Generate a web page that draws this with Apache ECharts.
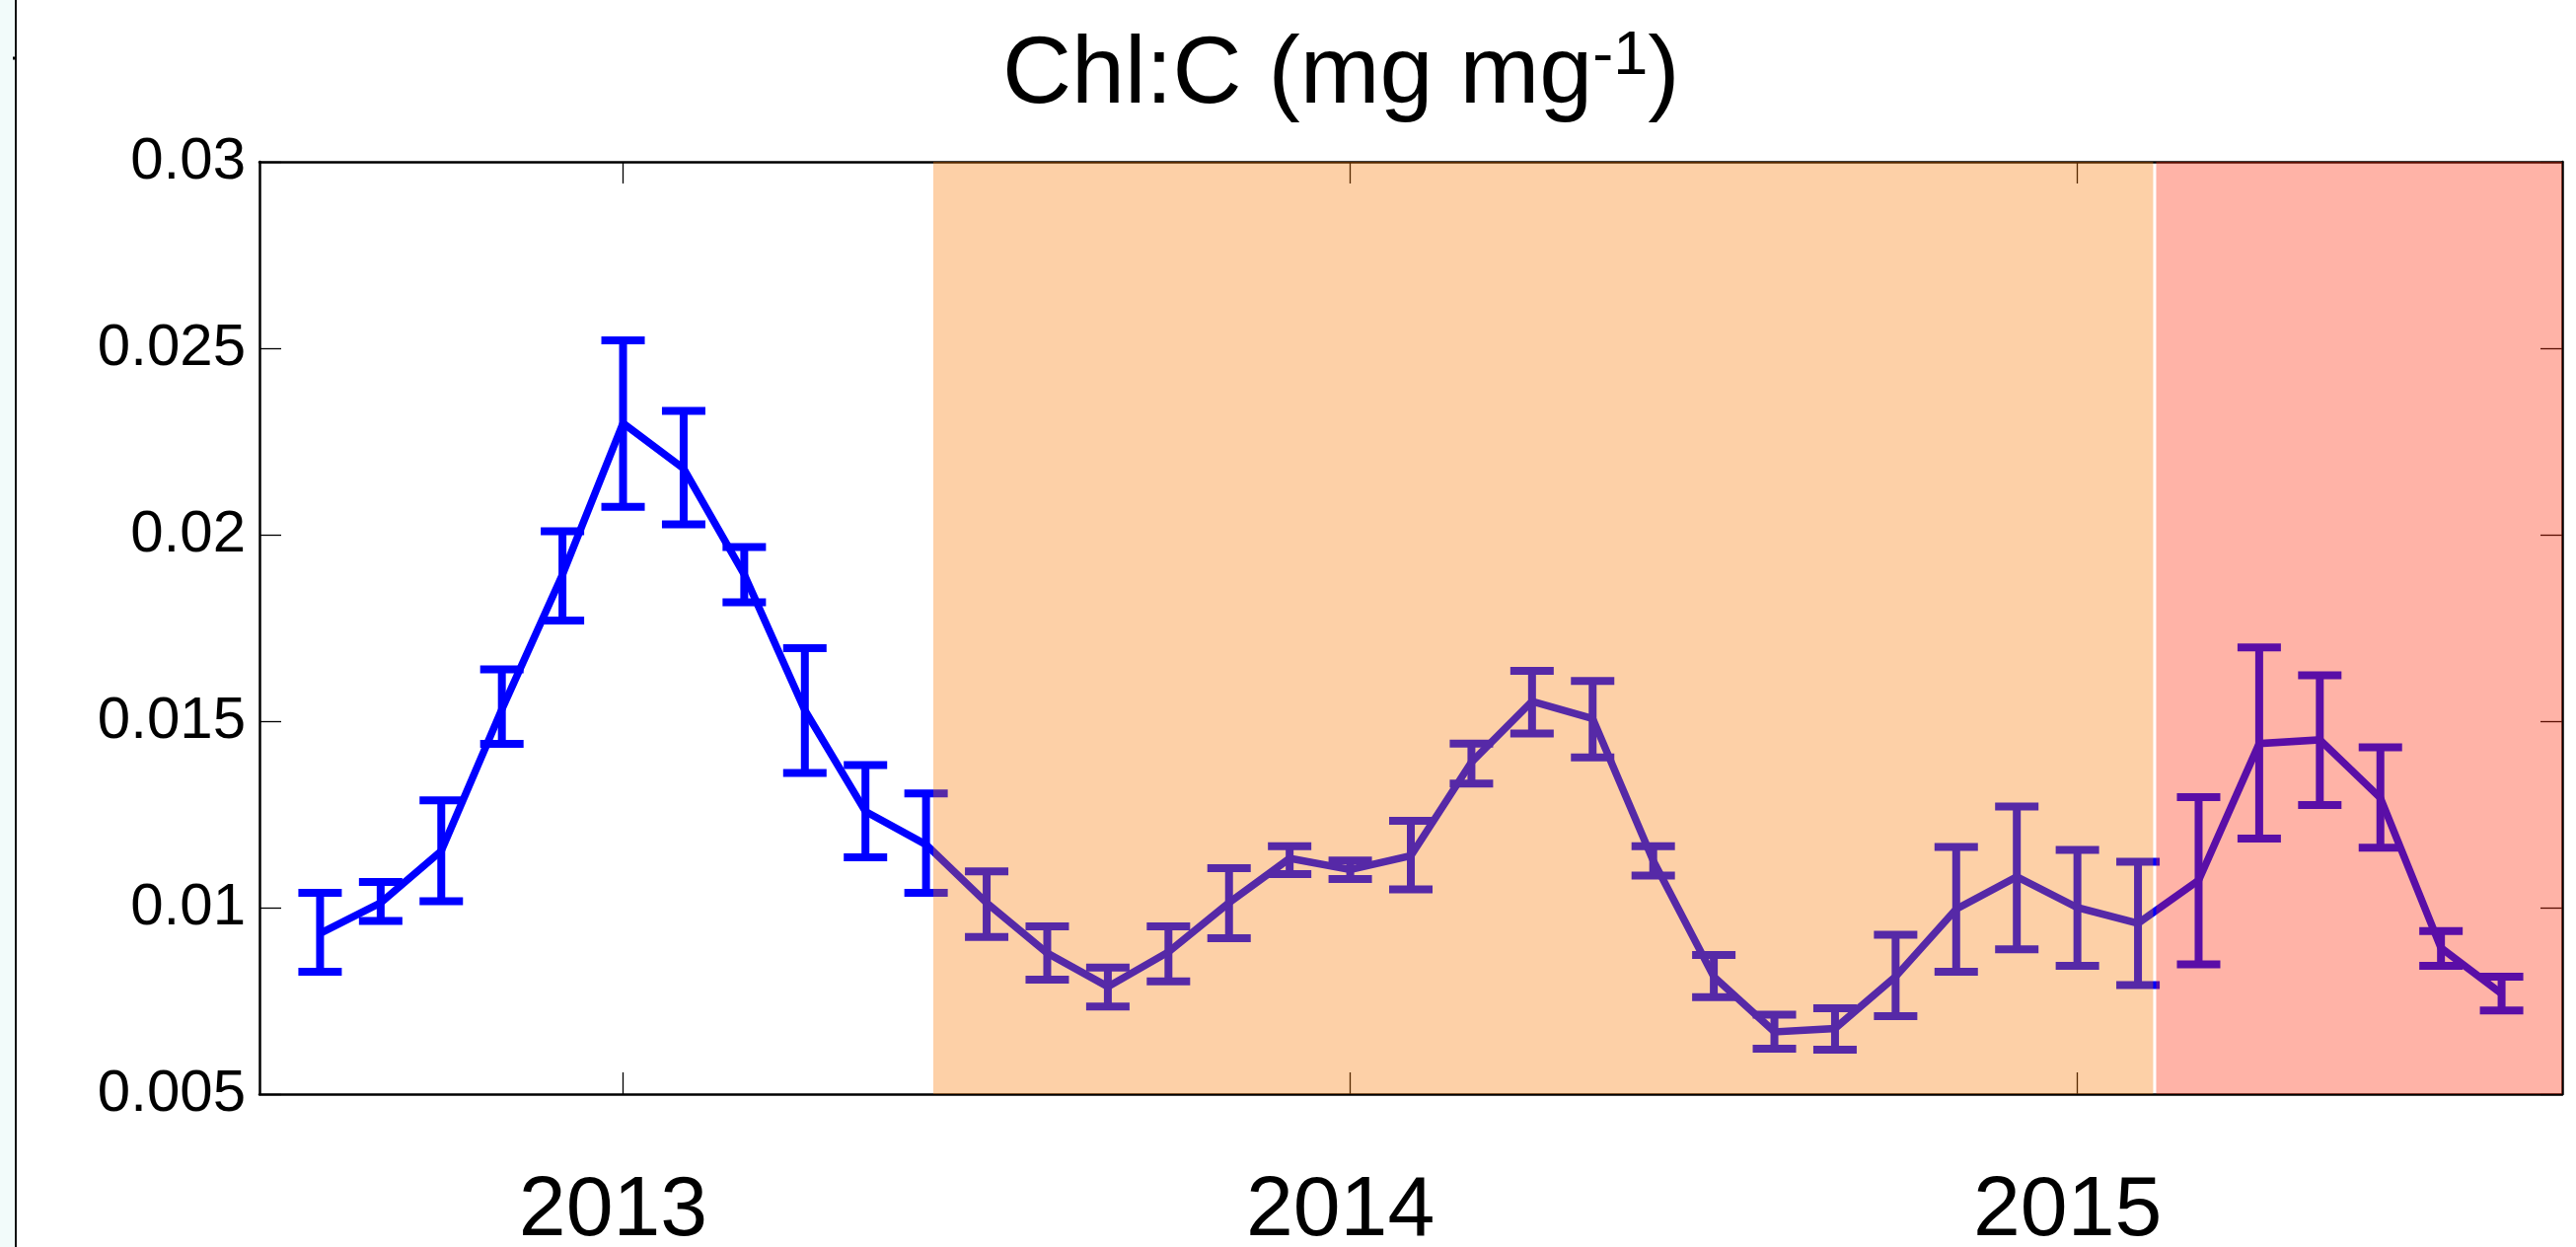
<!DOCTYPE html>
<html>
<head>
<meta charset="utf-8">
<script src="https://cdn.jsdelivr.net/npm/echarts@6/dist/echarts.min.js"></script>
<style>
html,body{margin:0;padding:0;background:#ffffff;}
#c{width:2611px;height:1264px;}
</style>
</head>
<body>
<div id="c"></div>
<script>
// ---- data ----
const months = ['2012-08','2012-09','2012-10','2012-11','2012-12','2013-01','2013-02','2013-03','2013-04','2013-05','2013-06','2013-07','2013-08','2013-09','2013-10','2013-11','2013-12','2014-01','2014-02','2014-03','2014-04','2014-05','2014-06','2014-07','2014-08','2014-09','2014-10','2014-11','2014-12','2015-01','2015-02','2015-03','2015-04','2015-05','2015-06','2015-07','2015-08'];
const chlC = [0.00931,0.01013,0.01152,0.01532,0.01893,0.02299,0.02177,0.01893,0.01529,0.01258,0.01169,0.01013,0.00878,0.00788,0.00881,0.01013,0.01132,0.01102,0.01139,0.01390,0.01553,0.01507,0.01126,0.00815,0.00667,0.00676,0.00815,0.00996,0.01083,0.01000,0.00958,0.01073,0.01440,0.01450,0.01294,0.00892,0.00769];
const chlUpper = [0.01040,0.01069,0.01288,0.01639,0.02009,0.02521,0.02332,0.01967,0.01696,0.01382,0.01306,0.01097,0.00950,0.00839,0.00950,0.01106,0.01165,0.01126,0.01233,0.01440,0.01635,0.01608,0.01165,0.00873,0.00713,0.00730,0.00927,0.01163,0.01271,0.01155,0.01123,0.01296,0.01698,0.01623,0.01430,0.00937,0.00815];
const chlLower = [0.00828,0.00964,0.01017,0.01439,0.01770,0.02075,0.02028,0.01819,0.01361,0.01135,0.01040,0.00921,0.00807,0.00735,0.00802,0.00918,0.01090,0.01077,0.01049,0.01333,0.01467,0.01403,0.01086,0.00760,0.00622,0.00619,0.00709,0.00828,0.00888,0.00844,0.00792,0.00848,0.01185,0.01275,0.01161,0.00844,0.00724];
const yearTickMonths = ['2013-01','2014-01','2015-01'];
const yearLabels = ['2013','2014','2015'];
const yMin = 0.005, yMax = 0.03, yStep = 0.005;
// shaded periods, in month-index units
const orangeBand = [10.12, 30.25];
const redBand = [30.30, 37];

// ---- build ----
const FONT = 'Liberation Sans, Arial, Helvetica, sans-serif';
const idx = months.map((m, i) => i);
const yearTickPos = yearTickMonths.map(m => months.indexOf(m));
const lineData = idx.map(i => [i, chlC[i]]);
const errData = idx.map(i => [i, chlLower[i], chlUpper[i]]);
const BLUE = '#0000FF';

const axisLineStyle = {show: true, onZero: false, lineStyle: {color: '#000', width: 2.5}};
const xTick = {show: true, inside: true, length: 22, customValues: yearTickPos, lineStyle: {color: '#000', width: 1.3}};
const yTick = {show: true, inside: true, length: 22, lineStyle: {color: '#000', width: 1.3}};

const chart = echarts.init(document.getElementById('c'), null, {renderer: 'canvas'});
chart.setOption({
  backgroundColor: '#ffffff',
  animation: false,
  title: {
    text: '{a|Chl:C (mg mg}{s|-1}{a|)}',
    left: 1016,
    top: 26,
    padding: 0,
    textStyle: {
      fontWeight: 'normal',
      rich: {
        a: {fontSize: 97, fontFamily: FONT, fontWeight: 'normal', color: '#000', verticalAlign: 'bottom'},
        s: {fontSize: 63, fontFamily: FONT, fontWeight: 'normal', color: '#000', verticalAlign: 'bottom', padding: [0, 0, 37, 0]}
      }
    }
  },
  graphic: [
    {type: 'rect', shape: {x: 0, y: 0, width: 15, height: 1264}, style: {fill: '#F2FBFA'}, z: -10, silent: true},
    {type: 'line', shape: {x1: 16, y1: 0, x2: 16, y2: 1264}, style: {stroke: '#111', lineWidth: 2}, silent: true},
    {type: 'line', shape: {x1: 13, y1: 59, x2: 16, y2: 59}, style: {stroke: '#000', lineWidth: 3}, silent: true}
  ],
  grid: {left: 263, right: 14, top: 164, bottom: 155, containLabel: false, outerBoundsMode: 'none'},
  xAxis: [
    {
      type: 'value', position: 'bottom', min: -1, max: 37,
      axisLine: axisLineStyle, axisTick: xTick,
      axisLabel: {
        customValues: yearTickPos,
        formatter: v => yearLabels[yearTickPos.indexOf(Math.round(v))] || '',
        fontSize: 86, fontFamily: FONT, color: '#000', margin: 76, padding: [0, 20, 0, 0]
      },
      splitLine: {show: false}
    },
    {
      type: 'value', position: 'top', min: -1, max: 37,
      axisLine: axisLineStyle, axisTick: xTick,
      axisLabel: {show: false}, splitLine: {show: false}
    }
  ],
  yAxis: [
    {
      type: 'value', position: 'left', min: yMin, max: yMax, interval: yStep,
      axisLine: axisLineStyle, axisTick: yTick,
      axisLabel: {
        formatter: v => String(+v.toFixed(3)),
        fontSize: 60, fontFamily: FONT, color: '#000', margin: 14
      },
      splitLine: {show: false}
    },
    {
      type: 'value', position: 'right', min: yMin, max: yMax, interval: yStep,
      axisLine: axisLineStyle, axisTick: yTick,
      axisLabel: {show: false}, splitLine: {show: false}
    }
  ],
  series: [
    {
      type: 'line', name: 'Chl:C', data: lineData,
      xAxisIndex: 0, yAxisIndex: 0,
      showSymbol: false, symbol: 'none',
      lineStyle: {color: BLUE, width: 7.5, cap: 'butt', join: 'miter'},
      z: 2, silent: true
    },
    {
      type: 'custom', name: 'err', data: errData,
      xAxisIndex: 0, yAxisIndex: 0,
      encode: {x: 0, y: [1, 2]},
      z: 3, silent: true,
      renderItem: function (params, api) {
        const x = api.value(0);
        const pLo = api.coord([x, api.value(1)]);
        const pHi = api.coord([x, api.value(2)]);
        const hw = 22;
        const style = {stroke: BLUE, lineWidth: 8, fill: null, lineCap: 'butt'};
        return {
          type: 'group',
          children: [
            {type: 'line', shape: {x1: pLo[0], y1: pLo[1], x2: pHi[0], y2: pHi[1]}, style: style},
            {type: 'line', shape: {x1: pLo[0] - hw, y1: pLo[1], x2: pLo[0] + hw, y2: pLo[1]}, style: style},
            {type: 'line', shape: {x1: pHi[0] - hw, y1: pHi[1], x2: pHi[0] + hw, y2: pHi[1]}, style: style}
          ]
        };
      }
    },
    {
      type: 'line', name: 'bands', data: lineData,
      xAxisIndex: 0, yAxisIndex: 0,
      showSymbol: false, symbol: 'none',
      lineStyle: {opacity: 0, width: 0},
      z: 10, silent: true,
      markArea: {
        silent: true,
        z: 20,
        data: [
          [{xAxis: orangeBand[0], itemStyle: {color: 'rgba(250,120,0,0.345)'}}, {xAxis: orangeBand[1]}],
          [{xAxis: redBand[0], itemStyle: {color: 'rgba(255,40,6,0.353)'}}, {xAxis: redBand[1]}]
        ]
      }
    }
  ]
});
</script>
</body>
</html>
